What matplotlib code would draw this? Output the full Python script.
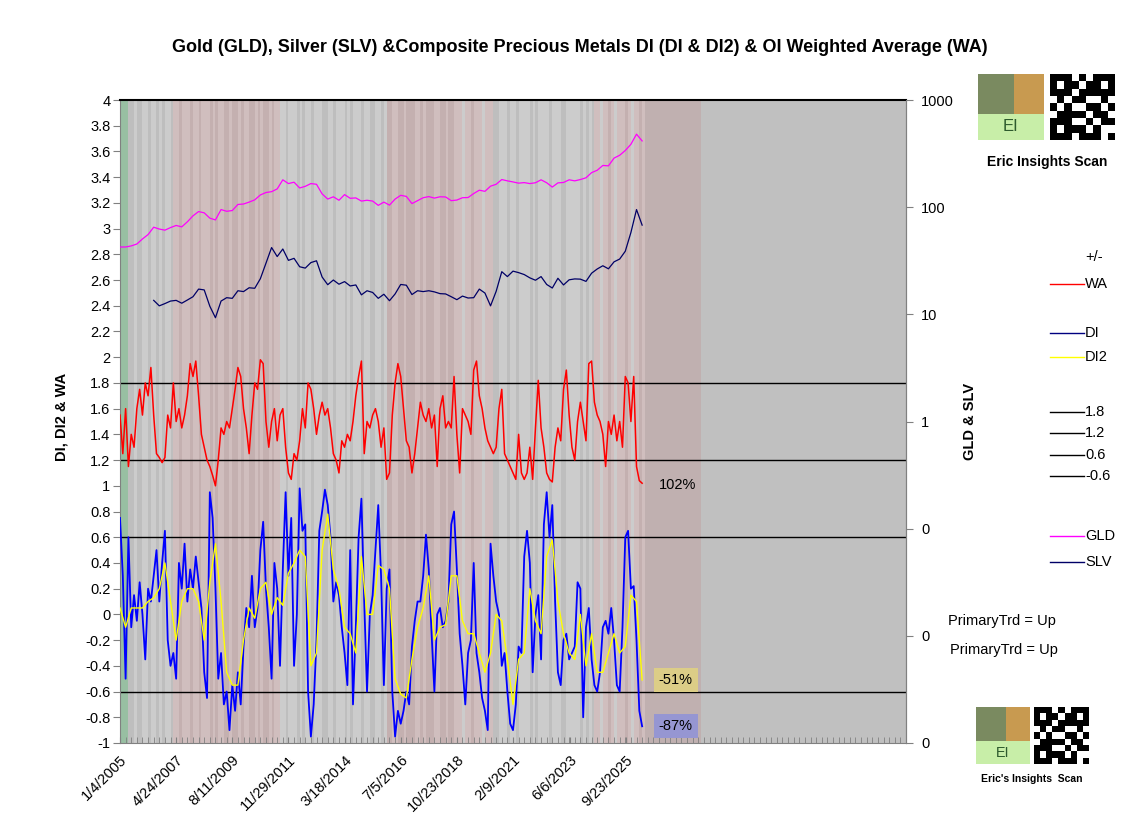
import numpy as np
import pandas as pd
import matplotlib
matplotlib.use("Agg")
import matplotlib.pyplot as plt
from matplotlib.lines import Line2D
from matplotlib.patches import Rectangle
from matplotlib.ticker import FixedLocator, FuncFormatter, NullLocator

plt.rcParams['font.family'] = ['Liberation Sans', 'DejaVu Sans']

# ---- data ----
# WA and DI sampled every 42 days from 1/4/2005
wa = [1.55,1.25,1.6,1.15,1.4,1.3,1.6,1.75,1.55,1.8, 1.7,1.92,1.55,1.25,1.22,1.18,1.22,1.55,1.45,1.8,
      1.5,1.6,1.45,1.55,1.7,1.95,1.85,1.97,1.7,1.4, 1.3,1.2,1.15,1.08,1.0,1.2,1.45,1.4,1.5,1.45,
      1.6,1.75,1.92,1.85,1.6,1.45,1.25,1.55,
      1.8,1.75,1.98,1.95,1.5,1.3,1.5,1.6,1.35,1.55, 1.6,1.3,1.1,1.05,1.25,1.2,1.35,1.6,1.45,1.8,
      1.75,1.6,1.4,1.55,1.65,1.55,1.6,1.45,1.25,1.2, 1.1,1.35,1.3,1.4,1.35,1.5,1.7,1.85,1.97,1.25,
      1.5,1.45,1.55,1.6,1.5,1.3,1.45,1.05,1.1,
      1.55,1.8,1.95,1.85,1.6,1.35,1.3,1.1,1.25,1.45, 1.65,1.55,1.5,1.6,1.45,1.55,1.15,1.6,1.7,1.45,
      1.5,1.45,1.85,1.4,1.1,1.6,1.55,1.5,1.4,1.9, 1.97,1.7,1.6,1.45,1.35,1.3,1.25,1.3,1.6,1.75,
      1.25,1.2,1.15,1.1,1.05,1.4,1.1,1.05,
      1.1,1.3,1.05,1.45,1.82,1.45,1.3,1.1,1.05,1.03, 1.3,1.45,1.35,1.75,1.9,1.55,1.3,1.2,1.5,1.65,
      1.5,1.35,1.95,1.97,1.65,1.55,1.5,1.4,1.15,1.5, 1.4,1.55,1.35,1.5,1.3,1.85,1.8,1.5,1.85,1.15,
      1.04,1.02]

di = [0.75,0.3,-0.5,0.6,-0.1,0.15,-0.05,0.25,0.0,-0.35, 0.2,0.1,0.3,0.5,0.1,0.4,0.65,-0.2,-0.4,-0.3,
      -0.5,0.4,0.2,0.55,0.1,0.35,0.2,0.45,0.25,0.05, -0.45,-0.65,0.95,0.75,0.2,-0.5,-0.3,-0.7,-0.6,-0.9,
      -0.55,-0.75,-0.45,-0.7,-0.25,0.05,-0.1,0.3,
      -0.1,0.05,0.5,0.72,0.2,-0.1,-0.5,0.4,0.2,-0.4, 0.35,0.95,0.3,0.75,-0.4,0.0,0.98,0.65,0.7,-0.6,
      -0.95,-0.7,-0.2,0.65,0.8,0.97,0.85,0.6,0.1,0.25, 0.15,-0.1,-0.3,-0.55,0.5,-0.7,-0.1,0.6,0.9,0.1,
      -0.6,0.0,0.15,0.5,0.85,0.3,-0.55,0.2,0.35,
      -0.6,-0.95,-0.75,-0.85,-0.75,-0.6,-0.7,-0.25,-0.05,0.1, 0.1,0.3,0.62,0.35,-0.15,-0.6,0.0,0.05,-0.1,-0.05,
      0.1,0.7,0.8,0.35,-0.15,-0.4,-0.7,-0.3,-0.2,0.4, -0.3,-0.45,-0.65,-0.75,-0.9,0.55,0.3,0.1,0.0,-0.4,
      -0.3,-0.6,-0.85,-0.9,-0.7,-0.25,-0.3,0.45,
      0.65,0.4,-0.45,0.0,0.15,-0.35,0.7,0.95,0.6,0.85, 0.1,-0.45,-0.55,-0.2,-0.15,-0.35,-0.3,-0.25,0.25,0.2,
      -0.8,-0.1,0.05,-0.35,-0.55,-0.6,-0.45,-0.1,-0.05,-0.15, 0.05,-0.2,-0.55,-0.6,-0.1,0.6,0.65,0.2,0.22,-0.2,
      -0.75,-0.87]

# DI2, GLD, SLV sampled every 84 days from 1/4/2005
di2 = [0.05,-0.1,0.05,0.05,0.05,0.1,0.13,0.2,0.4,0.1, -0.2,0.1,0.2,0.2,0.1,-0.2,0.25,0.55,0.1,-0.45,
       -0.55,-0.55,-0.2,0.05,
       -0.03,0.2,0.25,0.0,0.13,0.07,0.32,0.4,0.5,0.45, -0.4,-0.3,0.5,0.78,0.35,0.2,-0.1,-0.15,-0.3,0.45,
       0.0,0.0,0.38,0.35,0.2,
       -0.5,-0.62,-0.65,-0.35,-0.1,0.05,0.3,-0.2,-0.1,-0.08, 0.3,0.3,-0.05,-0.15,-0.15,-0.3,-0.45,-0.3,0.0,-0.05,
       -0.35,-0.7,-0.35,-0.3,
       0.2,-0.05,-0.15,0.45,0.58,0.1,-0.15,-0.3,-0.35,0.0, -0.4,-0.15,-0.45,-0.45,-0.3,-0.15,-0.3,-0.25,0.15,0.1,
       -0.51]

gld = [42.5,42.5,43.5,45.3,50.5,55.5,65.0,62.5,61.0,64.5, 67.5,65.5,73.0,83.0,91.0,88.5,79.0,76.0,95.0,91.5,
       93.0,106.0,107.0,111.5,117.0,130.0,137.0,139.5,148.0,180.0, 166.0,171.0,151.0,156.5,166.0,163.5,133.0,119.0,125.0,116.0,
       131.0,121.0,122.0,114.0,116.0,114.0,104.0,111.5,104.5,119.0, 129.0,126.0,108.0,115.0,122.5,125.5,121.5,125.0,124.5,115.0,
       116.5,122.5,123.0,134.0,144.0,140.5,157.0,163.5,181.0,176.0, 172.0,167.5,169.5,166.0,169.0,180.0,169.0,154.0,168.5,170.0,
       180.0,176.0,181.0,188.0,210.0,221.0,245.0,243.0,287.0,305.0, 338.0,386.0,480.0,415.0]

# SLV starts in 2006 (last len(slv) dates of the 84-day grid)
slv = [13.5,12.0,12.6,13.3,13.5,12.7,13.6,14.6,17.2,16.9, 11.9,9.3,13.3,14.3,14.1,16.6,16.3,17.7,17.5,21.5,
       30.0,42.0,34.6,40.7,31.9,33.3,27.8,27.0,30.4,31.6, 22.3,18.9,20.9,19.1,20.2,18.4,18.8,15.2,16.6,16.0,
       14.1,15.4,13.4,15.5,19.0,18.7,15.3,16.6,16.3,16.6, 16.2,15.6,15.5,14.6,13.7,14.8,14.2,14.3,17.2,15.8,
       12.0,16.4,25.0,22.5,25.3,24.5,23.5,21.9,20.8,22.5, 19.0,17.6,21.7,18.8,21.0,21.4,21.3,20.3,24.2,26.5,
       28.4,26.6,30.9,32.8,38.8,58.0,95.0,68.0]

# background regime per 42-day step: 0 lt grey, 1 dk grey, 2 lt rose, 3 dk rose, 4 green, 5 forward rose
regime = ([4,4,4] + [1,1,0,1,1,0] + [0,1,0,0,1,0,1,0,0,1]
          + [2,2,3,2,2,2,3,2,2,3,2,2,2,3,2,3,2,2,3]
          + [3,2,3,3,2,3,2,2,3,3,2,3,2,3,3,2,3,2,2]
          + [0,0,1,0,0,0,1,0,1,0,0,1,0,0,0,1,1,0,0,1,0,0,0,1,0,1,0,0,0,1,0,0,1,1,0,0,1,0]
          + [3,3,2,2,3,3,2,3,3,3,2,2,3,2,3,3,3,2,2,3,3,2,3,3]
          + [2,2,2,0,2,2,3,2,2,2,0,2,2,2]
          + [1,1,0,0,0,1,0,0,1,0,0,0,0,1,0,1,0,0,0,0,1,0,0,0,1,1,0,0,0,0,0,1,0,1,0,1]
          + [2,2,0,2,2,3,2,0,2,2,2,3,2,0,2,2,3,2]
          + [5] * 20)
shades = ['#cccccc', '#bebebe', '#d0bebe', '#c4b0b0', '#98bfa2', '#c0b0b0']

levels = [1.8, 1.2, 0.6, -0.6]
tick_labels = ["1/4/2005", "4/24/2007", "8/11/2009", "11/29/2011", "3/18/2014",
               "7/5/2016", "10/23/2018", "2/9/2021", "6/6/2023", "9/23/2025"]

start = pd.Timestamp("2005-01-04")
d42 = pd.date_range(start, periods=len(wa), freq="42D")
d84 = pd.date_range(start, periods=len(di2), freq="84D")
d_slv = d84[len(d84) - len(slv):]
d_reg = pd.date_range(start, periods=len(regime), freq="42D")
end = start + pd.Timedelta(days=11760)

W, H = 1138, 825
fig = plt.figure(figsize=(W / 100, H / 100), dpi=100)
ax = fig.add_axes([120 / W, 1 - 743 / H, 786 / W, 643 / H])
ax.set_facecolor('#c0c0c0')

for d, c in zip(d_reg, regime):
    ax.axvspan(d, d + pd.Timedelta(days=42), color=shades[c], lw=0, zorder=0, antialiased=False)

for lvl in levels:
    ax.axhline(lvl, color='black', lw=1, zorder=1)

ax.plot(d42, wa, color='#ff0000', lw=1.1, zorder=3)
ax.plot(d42, di, color='#0000ff', lw=1.3, zorder=3)
ax.plot(d84, di2, color='#ffff00', lw=1.0, zorder=4)

ax.set_xlim(start, end)
ax.set_ylim(-1, 4)
ax.set_yticks(np.round(np.arange(-1, 4.01, 0.2), 1))
ax.yaxis.set_major_formatter(FuncFormatter(lambda v, p: f"{round(v, 1) + 0.0:g}"))
ax.tick_params(axis='y', direction='out', length=5, color='#808080', labelsize=10.5, pad=2)

ax.xaxis.set_major_locator(FixedLocator(matplotlib.dates.date2num(pd.to_datetime(tick_labels))))
ax.set_xticklabels(tick_labels, rotation=45, ha='right', rotation_mode='anchor', fontsize=10.5)
ax.xaxis.set_minor_locator(FixedLocator(matplotlib.dates.date2num(pd.date_range(start, end, freq="84D"))))
ax.tick_params(axis='x', which='both', direction='in', length=4, color='#808080', pad=7)

for s in ['left', 'bottom', 'right']:
    ax.spines[s].set_color('#808080')
ax.spines['top'].set_color('black')
ax.spines['top'].set_linewidth(1.5)

ax.set_ylabel("DI, DI2 & WA", fontsize=10.5, fontweight='bold')
ax.yaxis.set_label_coords(-0.066, 0.507)

ax2 = ax.twinx()
ax2.set_yscale('log')
ax2.set_ylim(1e-3, 1e3)
ax2.plot(d84, gld, color='#ff00ff', lw=0.9, zorder=3)
ax2.plot(d_slv, slv, color='#000066', lw=0.9, zorder=3)
ax2.yaxis.set_major_locator(FixedLocator([1e-3, 1e-2, 1e-1, 1, 10, 100, 1000]))
ax2.yaxis.set_minor_locator(NullLocator())
ax2.yaxis.set_major_formatter(FuncFormatter(lambda v, p: f"{v:.0f}"))
ax2.tick_params(axis='y', direction='out', length=5, color='#808080', labelsize=10.5, pad=6)
for s in ['left', 'bottom', 'top']:
    ax2.spines[s].set_visible(False)
ax2.spines['right'].set_color('#808080')
ax2.set_ylabel("GLD & SLV", fontsize=10.5, fontweight='bold')
ax2.yaxis.set_label_coords(1.0725, 0.50)
ax2.set_xlim(start, end)

# end-value labels
ax.annotate(f"{wa[-1]:.0%}", xy=(d42[-1], wa[-1]), xytext=(12, -1), textcoords='offset points',
            fontsize=10.5, va='center', ha='left', zorder=6)
ax.annotate(f"{di2[-1]:.0%}", xy=(d84[-1], di2[-1]), xytext=(12, 0), textcoords='offset points',
            fontsize=10.5, va='center', ha='left', zorder=6,
            bbox=dict(boxstyle='square,pad=0.35', fc='#dccd87', ec='none'))
ax.annotate(f"{di[-1]:.0%}", xy=(d42[-1], di[-1]), xytext=(12, 0), textcoords='offset points',
            fontsize=10.5, va='center', ha='left', zorder=6,
            bbox=dict(boxstyle='square,pad=0.35', fc='#9696d2', ec='none'))


def px(x):
    return x / W


def py(y):
    return 1 - y / H


fig.text(px(580), py(47), "Gold (GLD), Silver (SLV) &Composite Precious Metals DI (DI & DI2) & OI Weighted Average (WA)",
         ha='center', va='center', fontsize=13, fontweight='bold')

# legend drawn by hand
legend_rows = [("+/-", None, 257), ("WA", '#ff0000', 284), ("DI", '#000080', 333), ("DI2", '#ffff00', 357),
               ("1.8", 'black', 412), ("1.2", 'black', 433), ("0.6", 'black', 455), ("-0.6", 'black', 476),
               ("GLD", '#ff00ff', 536), ("SLV", '#000066', 562)]
for lab, col, yy in legend_rows:
    if col is not None:
        fig.add_artist(Line2D([px(1050), px(1084)], [py(yy), py(yy)], transform=fig.transFigure, color=col, lw=1))
    fig.text(px(1085), py(yy), lab, ha='left', va='center', fontsize=10.5)

fig.text(px(948), py(621), "PrimaryTrd = Up", ha='left', va='center', fontsize=10.5)
fig.text(px(950), py(650), "PrimaryTrd = Up", ha='left', va='center', fontsize=10.5)


def logo(x0, y0, w, h, qx, qw):
    # photo block
    fig.add_artist(Rectangle((px(x0), py(y0 + h)), w / W, h / H, transform=fig.transFigure,
                             fc='#7a8a60', ec='none'))
    fig.add_artist(Rectangle((px(x0 + w * 0.55), py(y0 + h * 0.6)), w * 0.45 / W, h * 0.6 / H,
                             transform=fig.transFigure, fc='#c89a50', ec='none'))
    fig.add_artist(Rectangle((px(x0), py(y0 + h)), w / W, h * 0.4 / H, transform=fig.transFigure,
                             fc='#c8eea8', ec='none'))
    fig.text(px(x0 + w / 2), py(y0 + h * 0.8), "EI", ha='center', va='center',
             fontsize=h / 5.5, color='#2d5a2d')
    # qr block
    fig.add_artist(Rectangle((px(qx), py(y0 + h)), qw / W, h / H, transform=fig.transFigure,
                             fc='white', ec='none'))
    cell = qw / 9
    pattern = ["111010111", "101101101", "111011111", "010110010", "101001101",
               "011110110", "111001011", "101110100", "111011101"]
    for r, row in enumerate(pattern):
        for c, ch in enumerate(row):
            if ch == '1':
                fig.add_artist(Rectangle((px(qx + c * cell), py(y0 + (r + 1) * h / 9)), cell / W, h / 9 / H,
                                         transform=fig.transFigure, fc='black', ec='none'))


logo(978, 74, 66, 66, 1050, 65)
fig.text(px(1047), py(162), "Eric Insights Scan", ha='center', va='center', fontsize=10, fontweight='bold')
logo(976, 707, 54, 57, 1034, 55)
fig.text(px(1032), py(779), "Eric's Insights  Scan", ha='center', va='center', fontsize=7.5, fontweight='bold')

fig.savefig("out.png", dpi=100)
